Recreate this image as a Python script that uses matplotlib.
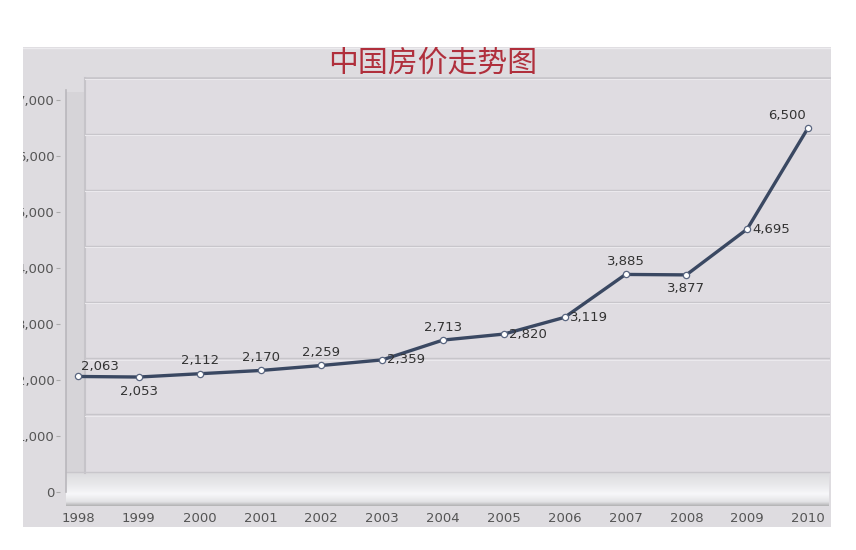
import matplotlib
matplotlib.use("Agg")
import matplotlib.pyplot as plt
import matplotlib.transforms as mtransforms
from matplotlib.patches import Rectangle
import numpy as np

plt.rcParams['font.family'] = ['Noto Sans CJK SC', 'DejaVu Sans']

years = [1998, 1999, 2000, 2001, 2002, 2003, 2004, 2005, 2006, 2007, 2008, 2009, 2010]
prices = [2063, 2053, 2112, 2170, 2259, 2359, 2713, 2820, 3119, 3885, 3877, 4695, 6500]
# label placement keys
label_pos = ['ur', 'b', 't', 't', 't', 'r', 't', 'r', 'r', 't', 'b', 'r', 'ul']
yticks = [0, 1000, 2000, 3000, 4000, 5000, 6000, 7000]
title = "中国房价走势图"

W, H = 856, 550
fig = plt.figure(figsize=(W / 100, H / 100), dpi=100)
fig.patch.set_facecolor('white')

# decoration axes in pixel coordinates
bg = fig.add_axes([0, 0, 1, 1])
bg.set_xlim(0, W)
bg.set_ylim(H, 0)
bg.axis('off')
bg.set_zorder(0)

# grey panel
bg.add_patch(Rectangle((23, 47), 808, 480, facecolor='#dedce0', edgecolor='none'))
bg.plot([23, 831], [48, 48], color='#ecebee', lw=1)
# back wall
bg.add_patch(Rectangle((85, 78), 746, 395, facecolor='#dfdce1', edgecolor='none'))
bg.plot([85, 831], [78, 78], color='#c9c7cc', lw=1.2)
bg.plot([85, 85], [78, 473], color='#c6c4c9', lw=1.5)
bg.add_patch(Rectangle((66, 92), 19, 400, facecolor='#d6d4d8', edgecolor='none'))
# floor slab gradient
grad = np.linspace(0, 1, 64)
cols = np.interp(grad, [0, 0.35, 0.65, 0.88, 1.0], [0.86, 0.91, 0.97, 0.89, 0.70])
img = np.stack([cols, cols, np.clip(cols * 1.01, 0, 1)], axis=-1)
img = img[:, None, :].repeat(2, axis=1)
bg.imshow(img, extent=(66, 829, 506, 472), aspect='auto', zorder=1, interpolation='bilinear')
bg.plot([66, 829], [472, 472], color='#c8c6cb', lw=1, zorder=2)
bg.set_xlim(0, W)
bg.set_ylim(H, 0)

# data axes
ax = fig.add_axes([60 / W, (H - 500) / H, (830 - 60) / W, (500 - 70) / H])
ax.set_zorder(2)
ax.patch.set_alpha(0)
ppy = (808 - 78) / 12.0
x0 = 1998 - (78 - 60) / ppy
x1 = 2010 + (830 - 808) / ppy
ppv = 0.056
ax.set_xlim(x0, x1)
ax.set_ylim(-(500 - 492) / ppv, 7000 + (100 - 70) / ppv)

for s in ax.spines.values():
    s.set_visible(False)

# back-wall gridlines (offset like a 3D chart)
off = mtransforms.ScaledTranslation(0, 22 / 100, fig.dpi_scale_trans)
off2 = mtransforms.ScaledTranslation(0, 20.5 / 100, fig.dpi_scale_trans)
for v in yticks[1:]:
    ax.plot([1998 + (85 - 78) / ppy, x1], [v, v], color='#c7c5ca', lw=1.0,
            transform=ax.transData + off, zorder=0.5)
    ax.plot([1998 + (85 - 78) / ppy, x1], [v, v], color='#ebe9ed', lw=0.8,
            transform=ax.transData + off2, zorder=0.5)

ax.set_yticks(yticks)
ax.set_yticklabels([f"{v:,}" for v in yticks])
ax.set_xticks(years)
ax.set_xticklabels([str(y) for y in years])
ax.tick_params(axis='y', length=3, width=0.8, color='#aaaaaa', labelsize=9.5,
               labelcolor='#555555', pad=1)
ax.tick_params(axis='x', length=0, labelsize=9.5, labelcolor='#555555', pad=9)
for t in ax.get_xticklabels() + ax.get_yticklabels():
    t.set_family(['DejaVu Sans'])

# y axis line
ax.plot([x0 + (65.5 - 60) / ppy] * 2, [0, 7000 + 10 / ppv], color='#b9b7bc', lw=1.2, zorder=1)

ax.plot(years, prices, color='#3a4862', lw=2.4, zorder=3,
        marker='o', markersize=4.5, markerfacecolor='white',
        markeredgecolor='#5a6680', markeredgewidth=0.9)

offsets = {'ur': (22, 10, 'center', 'center'), 'b': (0, -14, 'center', 'center'),
           't': (0, 13, 'center', 'center'), 'r': (5, 0, 'left', 'center'),
           'ul': (-21, 12, 'center', 'center')}
for x, y, p in zip(years, prices, label_pos):
    dx, dy, ha, va = offsets[p]
    ax.annotate(f"{y:,}", (x, y), xytext=(dx * 0.72, dy * 0.72), textcoords='offset points',
                ha=ha, va=va, fontsize=9.5, color='#333333', family=['DejaVu Sans'], zorder=4)

fig.text(433 / W, 1 - 63 / H, title, ha='center', va='center', fontsize=21.5,
         color='#b02f3c', family=['Noto Sans CJK SC', 'DejaVu Sans'], zorder=5)

# crop mask to mimic screenshot edges
mask = fig.add_axes([0, 0, 1, 1])
mask.set_xlim(0, W)
mask.set_ylim(H, 0)
mask.axis('off')
mask.set_zorder(10)
mask.patch.set_alpha(0)
mask.add_patch(Rectangle((0, 0), 23, H, facecolor='white', edgecolor='none'))
mask.add_patch(Rectangle((831, 0), W - 831, H, facecolor='white', edgecolor='none'))
mask.add_patch(Rectangle((0, 0), W, 47, facecolor='white', edgecolor='none'))
mask.add_patch(Rectangle((0, 527), W, H - 527, facecolor='white', edgecolor='none'))

fig.savefig('out.png', dpi=100)
